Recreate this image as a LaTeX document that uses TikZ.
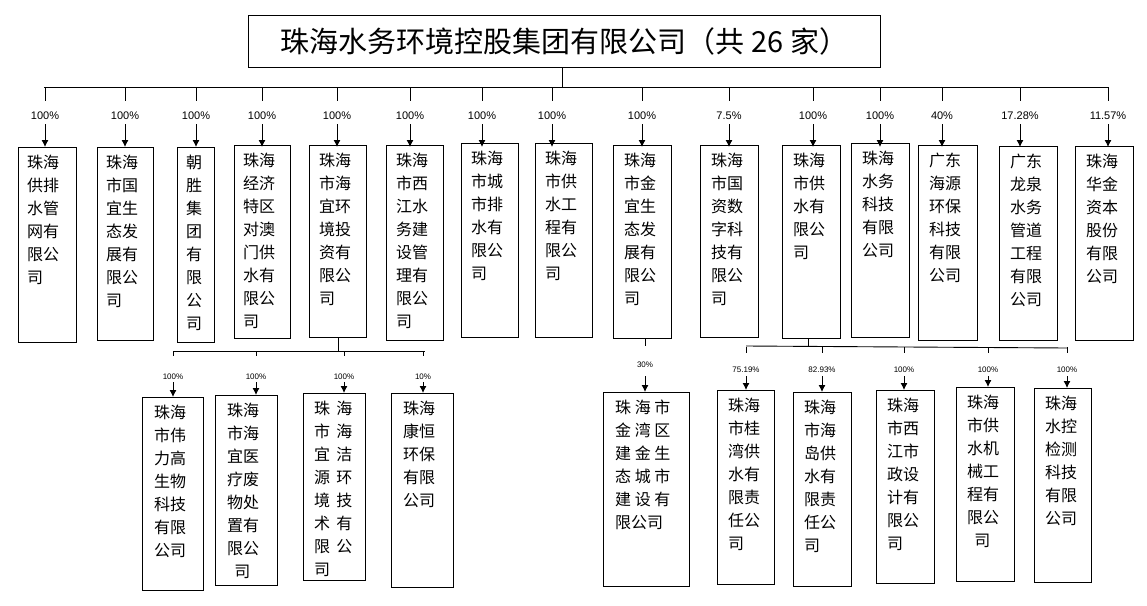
\documentclass[tikz,border=0pt]{standalone}
\usepackage{fontspec}
\setmainfont{Liberation Sans}
\newfontfamily\cjk{Noto Sans CJK SC}
\usetikzlibrary{arrows.meta}
\tikzset{
 cbx/.style={draw,line width=1.1pt,inner sep=0pt,anchor=north west},
 ctxt/.style={anchor=north west,inner sep=0pt,align=left,font=\cjk\fontsize{16}{23}\selectfont},
 pct/.style={inner sep=0pt,font=\fontsize{11}{12}\selectfont},
 spct/.style={inner sep=0pt,font=\fontsize{8}{9}\selectfont},
 arr/.style={line width=0.9pt,-{Latex[length=7pt,width=7pt]}},
 ln/.style={line width=0.9pt}
}
\newcommand{\cbox}[7]{% name x1 x2 y1 y2 textdx text
 \node[cbx,minimum width=#3pt-#2pt,minimum height=#5pt-#4pt] (#1) at (#2,#4) {};
 \node[ctxt] (#1t) at ([xshift=#6pt,yshift=-8pt]#1.north west) {#7};}
\begin{document}
\begin{tikzpicture}[x=1pt,y=-1pt]
\useasboundingbox (0,0) rectangle (1147,605);
\node[draw,line width=1.1pt,minimum width=632pt,minimum height=52pt,anchor=north west,inner sep=0pt] (root) at (248,15) {};
\node[font=\cjk\fontsize{29}{30}\selectfont] (roott) at (root.center) {珠海水务环境控股集团有限公司（共 26 家）};
% top boxes
\cbox{b1}{18}{76}{147}{342}{9}{珠海\\供排\\水管\\网有\\限公\\司}
\cbox{b2}{97}{153}{147}{340}{9}{珠海\\市国\\宜生\\态发\\展有\\限公\\司}
\cbox{b3}{177}{214}{147}{342}{9}{朝\\胜\\集\\团\\有\\限\\公\\司}
\cbox{b4}{234}{290}{145}{338}{9}{珠海\\经济\\特区\\对澳\\门供\\水有\\限公\\司}
\cbox{b5}{309}{366}{145}{337}{10}{珠海\\市海\\宜环\\境投\\资有\\限公\\司}
\cbox{b6}{386}{443}{145}{340}{10}{珠海\\市西\\江水\\务建\\设管\\理有\\限公\\司}
\cbox{b7}{461}{518}{143}{337}{10}{珠海\\市城\\市排\\水有\\限公\\司}
\cbox{b8}{535}{592}{143}{337}{10}{珠海\\市供\\水工\\程有\\限公\\司}
\cbox{b9}{613}{671}{145}{338}{11}{珠海\\市金\\宜生\\态发\\展有\\限公\\司}
\cbox{b10}{700}{758}{145}{337}{11}{珠海\\市国\\资数\\字科\\技有\\限公\\司}
\cbox{b11}{782}{840}{145}{338}{11}{珠海\\市供\\水有\\限公\\司}
\cbox{b12}{851}{909}{143}{337}{11}{珠海\\水务\\科技\\有限\\公司}
\cbox{b13}{918}{977}{145}{340}{11}{广东\\海源\\环保\\科技\\有限\\公司}
\cbox{b14}{999}{1057}{146}{340}{11}{广东\\龙泉\\水务\\管道\\工程\\有限\\公司}
\cbox{b15}{1075}{1133}{146}{340}{11}{珠海\\华金\\资本\\股份\\有限\\公司}
% top bus
\coordinate (tb) at (562,67);
\coordinate (bus) at (562,87);
\draw[ln] (root.south -| tb) -- (bus);
\draw[ln] (44,87) -- (1108,87);
\foreach \n/\x/\p in {b1/45/100\%,b2/125/100\%,b3/196/100\%,b4/262/100\%,b5/337/100\%,b6/410/100\%,b7/482/100\%,b8/552/100\%,b9/642/100\%,b10/729/7.5\%,b11/813/100\%,b12/880/100\%,b13/942/40\%,b14/1020/17.28\%,b15/1108/11.57\%}{
 \coordinate (t\n) at (\x,87);
 \draw[ln] (t\n) -- (\x,101);
 \node[pct] (p\n) at (\x,116) {\p};
 \draw[arr] (\x,124) -- (\x,147);
}
% lower left
\cbox{c1}{142}{203}{397}{590}{12}{珠海\\市伟\\力高\\生物\\科技\\有限\\公司}
\cbox{c2}{215}{277}{395}{585}{12}{珠海\\市海\\宜医\\疗废\\物处\\置有\\限公\\\ \ 司}
\cbox{c3}{303}{365}{393}{580}{11}{珠\,\ 海\\市\,\ 海\\宜\,\ 洁\\源\,\ 环\\境\,\ 技\\术\,\ 有\\限\,\ 公\\司}
\cbox{c4}{391}{453}{393}{587}{12}{珠海\\康恒\\环保\\有限\\公司}
\draw[ln] (b5.south) -- (b5.south |- 0,351);
\draw[ln] (173,351) -- (425,351);
\foreach \n/\x/\p in {c1/173/100\%,c2/256/100\%,c3/344/100\%,c4/423/10\%}{
 \draw[ln] (\x,351) -- (\x,356);
 \node[spct] (p\n) at (\x,377) {\p};
 \draw[arr] (\x,382) -- (\n.north -| \x,0);
}
% 30%
\cbox{d0}{603}{689}{392}{586}{12}{珠\ 海\ 市\\金\ 湾\ 区\\建\ 金\ 生\\态\ 城\ 市\\建\ 设\ 有\\限公司}
\draw[ln] (b9.south -| 645,0) -- (645,346);
\node[spct] (pd0) at (645,365) {30\%};
\draw[arr] (645,376) -- (d0.north -| 645,0);
% lower right
\cbox{d1}{717}{774}{390}{584}{11}{珠海\\市桂\\湾供\\水有\\限责\\任公\\司}
\cbox{d2}{793}{851}{392}{586}{11}{珠海\\市海\\岛供\\水有\\限责\\任公\\司}
\cbox{d3}{876}{934}{390}{583}{11}{珠海\\市西\\江市\\政设\\计有\\限公\\司}
\cbox{d4}{956}{1014}{387}{581}{11}{珠海\\市供\\水机\\械工\\程有\\限公\\\ \ 司}
\cbox{d5}{1034}{1091}{388}{582}{11}{珠海\\水控\\检测\\科技\\有限\\公司}
\draw[ln] (b11.south -| 808,0) -- (808,346);
\draw[ln] (746,346) -- (1067,348);
\foreach \n/\x/\p in {d1/746/75.19\%,d2/822/82.93\%,d3/904/100\%,d4/988/100\%,d5/1067/100\%}{
 \draw[ln] (\x,347) -- (\x,353);
 \node[spct] (p\n) at (\x,370) {\p};
 \draw[arr] (\x,376) -- (\n.north -| \x,0);
}
\end{tikzpicture}
\end{document}
